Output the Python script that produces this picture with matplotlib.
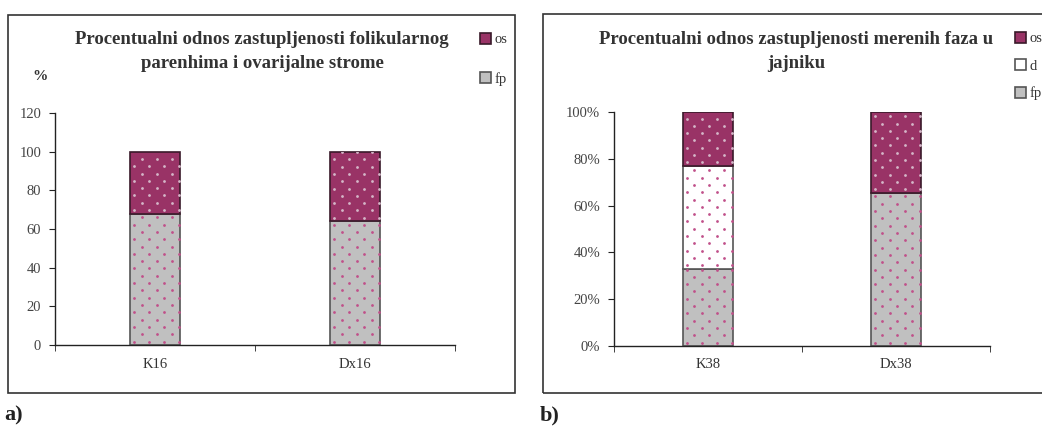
import matplotlib
matplotlib.use("Agg")
import matplotlib.pyplot as plt
import numpy as np
from matplotlib.patches import Rectangle
from matplotlib.ticker import FuncFormatter

plt.rcParams["font.family"] = ["Liberation Serif", "DejaVu Serif"]

# Podaci - grafik a)
kategorije_a = ["K16", "Dx16"]
fp_a = [68, 64]
os_a = [32, 36]

# Podaci - grafik b)
kategorije_b = ["K38", "Dx38"]
fp_b = [33, 65.5]
d_b = [44, 0]
os_b = [23, 34.5]

naslov_a = "Procentualni odnos zastupljenosti folikularnog\nparenhima i ovarijalne strome"
naslov_b = "Procentualni odnos zastupljenosti merenih faza u\njajniku"

W, H = 1042, 430
fig = plt.figure(figsize=(W / 100, H / 100), dpi=100)


def px(x, y, w, h):
    # pikseli (od gornjeg levog ugla) -> koordinate figure
    return [x / W, 1 - (y + h) / H, w / W, h / H]


boja_fp = "#c0c0c0"
boja_d = "#ffffff"
boja_os = "#993366"
tackice = "#c0508a"
tackice_os = "#d4b6c8"


def tackice_u_baru(ax, bars, boja):
    # sara od tackica (kao Excel uzorak), u pikselima, odsecena oblikom bara
    for r in bars.patches:
        if r.get_height() == 0:
            continue
        (x0, y0), (x1, y1) = ax.transData.transform(
            [(r.get_x(), r.get_y()),
             (r.get_x() + r.get_width(), r.get_y() + r.get_height())])
        tacke = []
        red = 0
        y = y0 + 3.5
        while y < y1:
            x = x0 + 4 + (7.5 if red % 2 else 0)
            while x < x1:
                tacke.append((x, y))
                x += 15
            y += 7.3
            red += 1
        d = ax.transData.inverted().transform(np.array(tacke))
        sc = ax.scatter(d[:, 0], d[:, 1], s=4, c=boja, linewidths=0,
                        zorder=3)
        sc.set_clip_path(r)


def slozeni_bar(ax, x, vrednosti, bottom, boja, hatch_boja, ivica, sirina):
    b = ax.bar(x, vrednosti, sirina, bottom=bottom, color=boja,
               edgecolor=ivica, linewidth=1.2, zorder=2)
    tackice_u_baru(ax, b, hatch_boja)
    return b


def uredi_osu(ax, kategorije):
    for s in ["top", "right"]:
        ax.spines[s].set_visible(False)
    for s in ["left", "bottom"]:
        ax.spines[s].set_color("#222222")
        ax.spines[s].set_linewidth(1.0)
    ax.set_xticks(range(len(kategorije)))
    ax.set_xticklabels(kategorije)
    ax.tick_params(axis="x", which="major", length=0, pad=9,
                   labelsize=10.5, labelcolor="#333333")
    ax.set_xticks([i - 0.5 for i in range(len(kategorije) + 1)], minor=True)
    ax.tick_params(axis="x", which="minor", length=4, color="#222222")
    ax.tick_params(axis="y", length=4, pad=6, labelsize=10.5,
                   labelcolor="#444444", color="#222222")


def legenda(handles, labels, x, y, razmak):
    leg = fig.legend(handles, labels, loc="upper left",
                     bbox_to_anchor=(x / W, 1 - y / H), frameon=False,
                     handlelength=0.75, handleheight=0.75, handletextpad=0.25,
                     labelspacing=razmak, fontsize=10.5, borderpad=0,
                     borderaxespad=0)
    for t in leg.get_texts():
        t.set_color("#333333")


# ---- a) ----
ax1 = fig.add_axes(px(55, 113, 400, 232))
ax1.set_xlim(-0.5, len(kategorije_a) - 0.5)
ax1.set_ylim(0, 120)
x_a = range(len(kategorije_a))
b_fp_a = slozeni_bar(ax1, x_a, fp_a, 0, boja_fp, tackice, "#555555", 0.25)
b_os_a = slozeni_bar(ax1, x_a, os_a, fp_a, boja_os, tackice_os, "#3a1a2a", 0.25)
ax1.set_yticks(range(0, 121, 20))
uredi_osu(ax1, kategorije_a)

fig.text(262 / W, 1 - 31 / H, naslov_a, ha="center", va="top",
         fontsize=13.5, fontweight="bold", color="#333333", linespacing=1.5)
fig.text(40 / W, 1 - 77 / H, "%", ha="center", va="center",
         fontsize=11, fontweight="bold", color="#333333")

legenda([b_os_a, b_fp_a], ["os", "fp"], 480, 33, 1.75)

fig.add_artist(Rectangle((8 / W, 1 - 393 / H), 507 / W, 378 / H,
                         transform=fig.transFigure, fill=False,
                         edgecolor="#333333", linewidth=1.2))
fig.text(4 / W, 1 - 415 / H, "a)", ha="left", va="center",
         fontsize=16, fontweight="bold", color="#222222")

# ---- b) ----
ax2 = fig.add_axes(px(614, 112, 376, 234))
ax2.set_xlim(-0.5, len(kategorije_b) - 0.5)
ax2.set_ylim(0, 100)
x_b = range(len(kategorije_b))
b_fp_b = slozeni_bar(ax2, x_b, fp_b, 0, boja_fp, tackice, "#555555", 0.27)
dno_d = fp_b
b_d_b = slozeni_bar(ax2, x_b, d_b, dno_d, boja_d, tackice, "#555555", 0.27)
dno_os = [f + d for f, d in zip(fp_b, d_b)]
b_os_b = slozeni_bar(ax2, x_b, os_b, dno_os, boja_os, tackice_os, "#3a1a2a", 0.27)
ax2.set_yticks(range(0, 101, 20))
ax2.yaxis.set_major_formatter(FuncFormatter(lambda v, p: f"{v:.0f}%"))
uredi_osu(ax2, kategorije_b)

fig.text(796 / W, 1 - 31 / H, naslov_b, ha="center", va="top",
         fontsize=13.5, fontweight="bold", color="#333333", linespacing=1.5)

legenda([b_os_b, b_d_b, b_fp_b], ["os", "d", "fp"], 1015, 32, 0.95)

fig.add_artist(Rectangle((543 / W, 1 - 393 / H), 520 / W, 379 / H,
                         transform=fig.transFigure, fill=False,
                         edgecolor="#333333", linewidth=1.2))
fig.text(540 / W, 1 - 415 / H, "b)", ha="left", va="center",
         fontsize=16, fontweight="bold", color="#222222")

fig.savefig("out.png", dpi=100)
